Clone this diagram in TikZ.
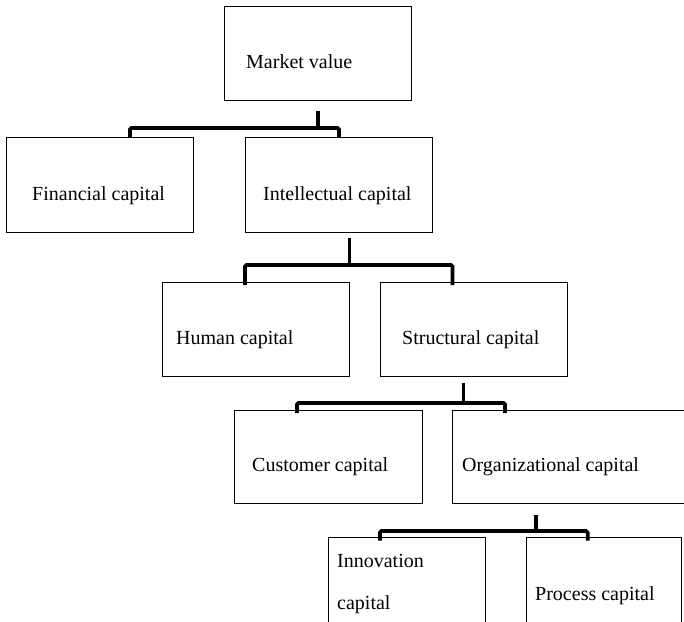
\documentclass[tikz,border=0pt]{standalone}
\usepackage{fontspec}
\setmainfont{Liberation Serif}
\begin{document}
\begin{tikzpicture}[x=1pt,y=-1pt,
  box/.style={draw=black, line width=0.9pt, anchor=north west, inner sep=0pt},
  txt/.style={anchor=base west, inner sep=0pt, font=\fontsize{20}{42}\selectfont, align=left},
  conn/.style={draw=black, line width=3.6pt, rounded corners=1.5pt}]
\useasboundingbox (0,0) rectangle (684,621);
\clip (0,0) rectangle (684,621);
% boxes
\node[box, minimum width=187pt, minimum height=94pt] (mv) at (224,6) {};
\node[box, minimum width=187pt, minimum height=95pt] (fc) at (6,137) {};
\node[box, minimum width=187pt, minimum height=95pt] (ic) at (245,137) {};
\node[box, minimum width=187pt, minimum height=94pt] (hc) at (162,282) {};
\node[box, minimum width=187pt, minimum height=94pt] (sc) at (380,282) {};
\node[box, minimum width=188pt, minimum height=93pt] (cc) at (234,410) {};
\node[box, minimum width=240pt, minimum height=93pt] (oc) at (452,410) {};
\node[box, minimum width=157pt, minimum height=90pt] (inc) at (328,537) {};
\node[box, minimum width=155pt, minimum height=90pt] (pc) at (526,537) {};
% texts
\node[txt] (mvt) at (246,68) {Market value};
\node[txt] (fct) at (32,200) {Financial capital};
\node[txt] (ict) at (263,200) {Intellectual capital};
\node[txt] (hct) at (176,344) {Human capital};
\node[txt] (sct) at (402,344) {Structural capital};
\node[txt] (cct) at (252,471.5) {Customer capital};
\node[txt] (oct) at (462,471.5) {Organizational capital};
\node[txt] (inct) at (337,609) {Innovation\\capital};
\node[txt] (pct) at (535,600) {Process capital};
% connector coordinates
\coordinate (mvs) at (317.7,111);
\coordinate (fcj) at (130,137);
\coordinate (icj) at (339,137);
\coordinate (ics) at (349.3,238);
\coordinate (hcj) at (245,285);
\coordinate (scj) at (452.5,285);
\coordinate (scs) at (463.3,383);
\coordinate (ccj) at (297,413);
\coordinate (ocj) at (505,413);
\coordinate (ocs) at (535.7,515);
\coordinate (incj) at (380,540.5);
\coordinate (pcj) at (587.7,540.5);
% connectors
\draw[conn] (fcj) -- ++(0,-9) -| (icj);
\draw[conn] (mvs) -- ++(0,17);
\draw[conn] (hcj) -- ++(0,-20) -| (scj);
\draw[conn] (ics) -- ++(0,27);
\draw[conn] (ccj) -- ++(0,-10) -| (ocj);
\draw[conn] (scs) -- ++(0,20);
\draw[conn] (incj) -- ++(0,-9.5) -| (pcj);
\draw[conn] (ocs) -- ++(0,16);
\end{tikzpicture}
\end{document}
